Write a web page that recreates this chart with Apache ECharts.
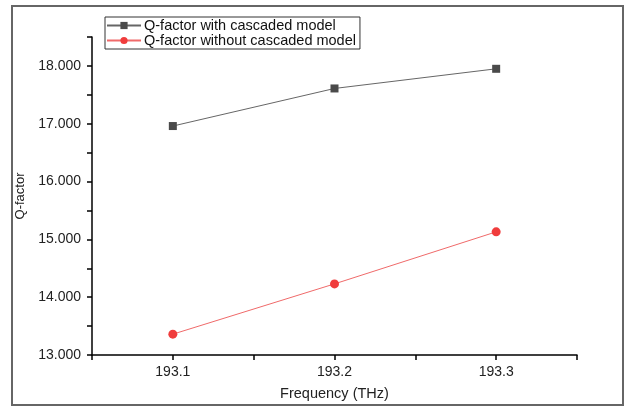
<!DOCTYPE html>
<html><head><meta charset="utf-8">
<script src="https://cdn.jsdelivr.net/npm/echarts@6/dist/echarts.min.js"></script>
<style>html,body{margin:0;padding:0;background:#fff}#c{width:627px;height:407px}</style>
</head><body><div id="c"></div>
<script>
const frequencies = [193.1, 193.2, 193.3];
const withCascaded = [16.96, 17.61, 17.95];
const withoutCascaded = [13.36, 14.23, 15.13];
const seriesNames = ['Q-factor with cascaded model', 'Q-factor without cascaded model'];
const xName = 'Frequency (THz)';
const yName = 'Q-factor';

const chart = echarts.init(document.getElementById('c'), null, {renderer: 'canvas'});
const font = 'Liberation Sans';
const pair = (xs, ys) => xs.map((x, i) => [x, ys[i]]);
chart.setOption({
  animation: false,
  backgroundColor: '#fff',
  textStyle: {fontFamily: font},
  graphic: [{type: 'rect', shape: {x: 12, y: 6, width: 611, height: 399},
    style: {fill: 'none', stroke: '#666', lineWidth: 2}, silent: true}],
  grid: {left: 92, top: 37, right: 50, bottom: 52},
  legend: {
    orient: 'vertical', left: 105, top: 17,
    backgroundColor: '#fff', borderColor: '#333', borderWidth: 1,
    padding: [1, 4, 1, 1], itemGap: 0, itemWidth: 34, itemHeight: 9,
    textStyle: {fontFamily: font, fontSize: 14.5, color: '#111', padding: [0, 0, 0, -2], lineHeight: 15},
    data: seriesNames
  },
  xAxis: {
    type: 'value', min: 193.05, max: 193.35, interval: 0.05,
    name: xName, nameLocation: 'middle', nameGap: 31,
    nameTextStyle: {fontFamily: font, fontSize: 14.5, color: '#222'},
    axisLine: {show: true, lineStyle: {color: '#000', width: 1.5}},
    axisTick: {show: true, inside: false, length: 5, lineStyle: {color: '#000', width: 1.5}},
    axisLabel: {fontFamily: font, fontSize: 14, color: '#222', margin: 10,
      formatter: v => Math.abs(v * 10 - Math.round(v * 10)) < 1e-6 ? v.toFixed(1) : ''},
    splitLine: {show: false}
  },
  yAxis: {
    type: 'value', min: 13, max: 18.5, interval: 0.5,
    name: yName, nameLocation: 'middle', nameGap: 59, nameRotate: 90,
    nameTextStyle: {fontFamily: font, fontSize: 13, color: '#222'},
    axisLine: {show: true, lineStyle: {color: '#000', width: 1.5}},
    axisTick: {show: true, inside: false, length: 5, lineStyle: {color: '#000', width: 1.5}},
    axisLabel: {fontFamily: font, fontSize: 14, color: '#222', margin: 11,
      formatter: v => Math.abs(v - Math.round(v)) < 1e-6 ? v.toFixed(3) : ''},
    splitLine: {show: false}
  },
  series: [
    {name: seriesNames[0], type: 'line', data: pair(frequencies, withCascaded),
     symbol: 'rect', symbolSize: 8,
     itemStyle: {color: '#4a4a4a'}, lineStyle: {color: '#666', width: 1}},
    {name: seriesNames[1], type: 'line', data: pair(frequencies, withoutCascaded),
     symbol: 'circle', symbolSize: 9,
     itemStyle: {color: '#f03c3c'}, lineStyle: {color: '#f06a6a', width: 1}}
  ]
});
</script></body></html>
